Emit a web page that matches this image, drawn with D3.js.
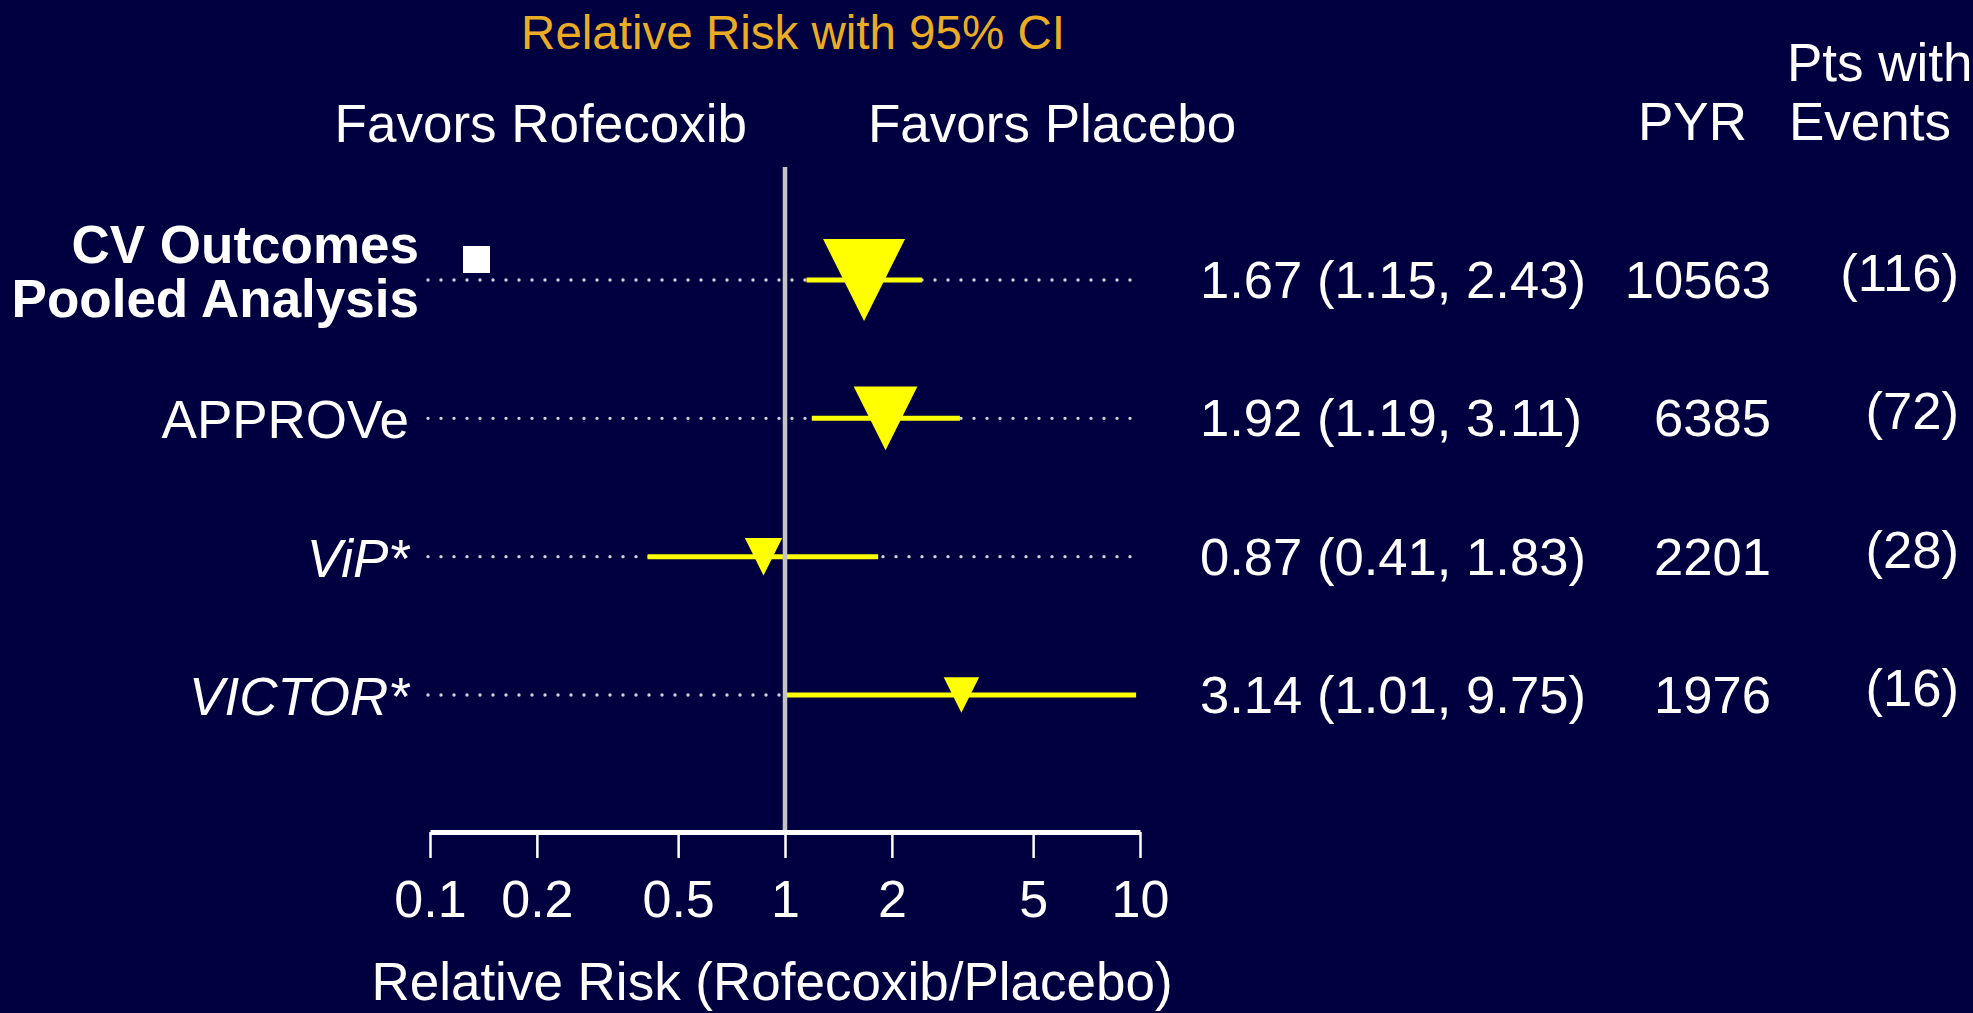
<!DOCTYPE html>
<html>
<head>
<meta charset="utf-8">
<script src="https://cdn.jsdelivr.net/npm/d3@7"></script>
<style>
  html, body { margin: 0; padding: 0; background: #000040; }
  svg { display: block; }
  text { font-family: "Liberation Sans", Arial, Helvetica, sans-serif; }
</style>
</head>
<body>
<svg id="chart" width="1973" height="1013"></svg>
<script>
// Studies, top to bottom
const studies = ["CV Outcomes\nPooled Analysis", "APPROVe", "ViP*", "VICTOR*"];
const relRisk = [1.67, 1.92, 0.87, 3.14];
const ciLow   = [1.15, 1.19, 0.41, 1.01];
const ciHigh  = [2.43, 3.11, 1.83, 9.75];
const ciText  = ["1.67 (1.15, 2.43)", "1.92 (1.19, 3.11)", "0.87 (0.41, 1.83)", "3.14 (1.01, 9.75)"];
const pyr     = [10563, 6385, 2201, 1976];
const events  = [116, 72, 28, 16];

const tickValues = [0.1, 0.2, 0.5, 1, 2, 5, 10];
const tickLabels = ["0.1", "0.2", "0.5", "1", "2", "5", "10"];

const W = 1973, H = 1013;
const svg = d3.select("#chart");

svg.append("rect").attr("width", W).attr("height", H).attr("fill", "#000040");

const x = d3.scaleLog().domain([0.1, 10]).range([430, 1140]);
const y = d3.scalePoint().domain(d3.range(studies.length)).range([280, 695]);
const size = d3.scaleSqrt().domain([0, d3.max(pyr)]).range([0, 82]);
const axisY = 832;

const rows = studies.map((s, i) => ({
  i, label: s, rr: relRisk[i], lo: ciLow[i], hi: ciHigh[i],
  ci: ciText[i], pyr: pyr[i], ev: events[i]
}));

// Title and column headers
svg.append("text").attr("x", 793).attr("y", 49).attr("text-anchor", "middle")
  .attr("font-size", 47.5).attr("fill", "#E9AC24").text("Relative Risk with 95% CI");

const header = (tx, ty, t, anchor) => svg.append("text")
  .attr("x", tx).attr("y", ty).attr("text-anchor", anchor || "start")
  .attr("font-size", 53).attr("fill", "#ffffff").text(t);
header(747, 142, "Favors Rofecoxib", "end");
header(868, 142, "Favors Placebo");
header(1638, 140, "PYR");
header(1787, 81, "Pts with");
header(1789, 140, "Events");

// Dotted guide lines
svg.append("g").selectAll("line").data(rows).join("line")
  .attr("x1", 428).attr("x2", 1140)
  .attr("y1", d => y(d.i)).attr("y2", d => y(d.i))
  .attr("stroke", "#d0d0d8").attr("stroke-width", 3.4)
  .attr("stroke-linecap", "round").attr("stroke-dasharray", "0 13");

// Confidence intervals
svg.append("g").selectAll("line").data(rows).join("line")
  .attr("x1", d => x(d.lo)).attr("x2", d => x(d.hi))
  .attr("y1", d => y(d.i)).attr("y2", d => y(d.i))
  .attr("stroke", "#ffff00").attr("stroke-width", 5);

// Line of no effect
svg.append("line").attr("x1", x(1)).attr("x2", x(1))
  .attr("y1", 167).attr("y2", axisY)
  .attr("stroke", "#c4c4c8").attr("stroke-width", 4.5);

// Point estimates: downward triangles, area proportional to person-years
svg.append("g").selectAll("path").data(rows).join("path")
  .attr("d", d => {
    const w = size(d.pyr), cx = x(d.rr), cy = y(d.i);
    return `M${cx - w / 2},${cy - w / 2}L${cx + w / 2},${cy - w / 2}L${cx},${cy + w / 2}Z`;
  })
  .attr("fill", "#ffff00");

// Marker square beside the pooled row
svg.append("rect").attr("x", 463).attr("y", y(0) - 34)
  .attr("width", 27).attr("height", 27).attr("fill", "#ffffff");

// Study labels
const labels = svg.append("g").attr("fill", "#ffffff").attr("font-size", 53);
rows.forEach(d => {
  const lines = d.label.split("\n");
  const pooled = d.i === 0;
  const t = labels.append("text")
    .attr("text-anchor", "end")
    .attr("font-weight", pooled ? "bold" : "normal")
    .attr("font-style", d.label.endsWith("*") ? "italic" : "normal");
  if (lines.length > 1) {
    lines.forEach((ln, k) => t.append("tspan")
      .attr("x", 419).attr("y", y(d.i) - 17 + k * 54).text(ln));
  } else {
    t.attr("x", 409).attr("y", y(d.i) + 20).text(lines[0]);
  }
});

// Value columns
const cols = svg.append("g").attr("fill", "#ffffff").attr("font-size", 52.6);
cols.selectAll(".ci").data(rows).join("text").attr("class", "ci")
  .attr("x", 1200).attr("y", d => y(d.i) + 18).text(d => d.ci);
cols.selectAll(".pyr").data(rows).join("text").attr("class", "pyr")
  .attr("x", 1771).attr("y", d => y(d.i) + 18).attr("text-anchor", "end").text(d => d.pyr);
cols.selectAll(".ev").data(rows).join("text").attr("class", "ev")
  .attr("x", 1959).attr("y", d => y(d.i) + 11).attr("text-anchor", "end").text(d => `(${d.ev})`);

// Log axis
const axis = d3.axisBottom(x)
  .tickValues(tickValues)
  .tickFormat((d, i) => tickLabels[i])
  .tickSize(26).tickSizeOuter(0).tickPadding(22);
const gAxis = svg.append("g").attr("transform", `translate(0,${axisY})`).call(axis);
gAxis.select(".domain").attr("stroke", "#ffffff").attr("stroke-width", 5);
gAxis.selectAll(".tick line").attr("stroke", "#ffffff").attr("stroke-width", 2.5);
gAxis.selectAll(".tick text").attr("fill", "#ffffff").attr("font-size", 52)
  .attr("font-family", "'Liberation Sans', Arial, sans-serif");

svg.append("text").attr("x", 772).attr("y", 1000).attr("text-anchor", "middle")
  .attr("font-size", 53).attr("fill", "#ffffff").text("Relative Risk (Rofecoxib/Placebo)");
</script>
</body>
</html>
